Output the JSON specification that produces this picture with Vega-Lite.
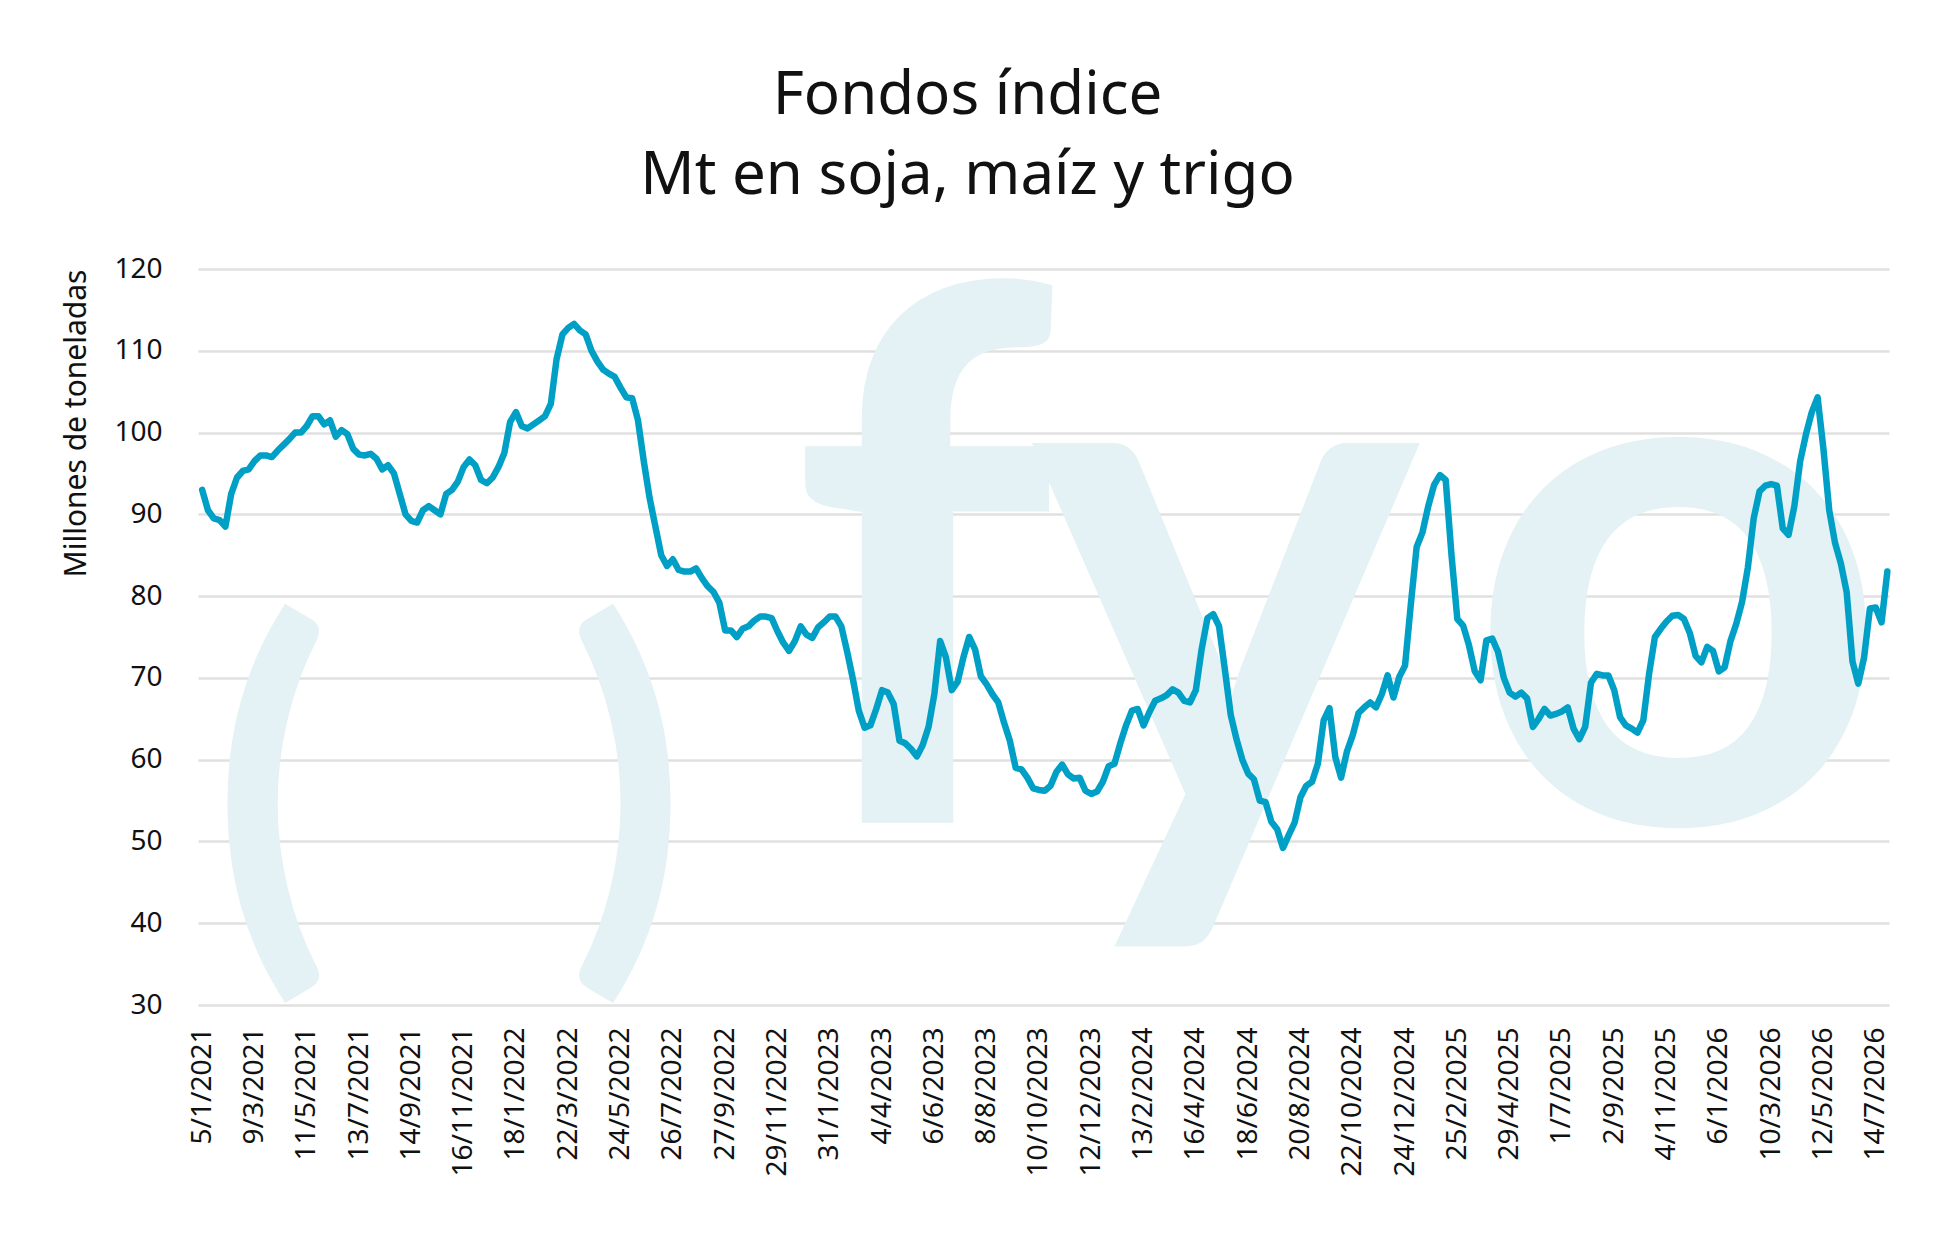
{
  "$schema": "https://vega.github.io/schema/vega-lite/v6.json",
  "width": 1691,
  "height": 736,
  "autosize": {"type": "none"},
  "padding": {"left": 198, "top": 269, "right": 49, "bottom": 251},
  "background": "white",
  "config": {"view": {"stroke": null}, "font": "Noto Sans"},
  "title": {
    "text": ["Fondos índice", "Mt en soja, maíz y trigo"],
    "fontSize": 60,
    "fontWeight": 400,
    "font": "Noto Sans",
    "color": "#111111",
    "lineHeight": 80,
    "anchor": "middle",
    "frame": "group",
    "dx": -76,
    "offset": 24
  },
  "datasets": {
    "marca": [
      {"f": "2021-03-30", "v": 52.5, "t": "("},
      {"f": "2022-05-31", "v": 52.5, "t": ")"}
    ],
    "marca2": [
      {"f": "2023-05-23", "v": 52.3, "t": "f"},
      {"f": "2024-05-21", "v": 52.3, "t": "y"},
      {"f": "2025-11-18", "v": 52.3, "t": "o"}
    ],
    "serie": [
      {"f":"2021-01-05","v":93},{"f":"2021-01-12","v":90.5},{"f":"2021-01-19","v":89.5},{"f":"2021-01-26","v":89.3},
      {"f":"2021-02-02","v":88.5},{"f":"2021-02-09","v":92.5},{"f":"2021-02-16","v":94.5},{"f":"2021-02-23","v":95.3},
      {"f":"2021-03-02","v":95.5},{"f":"2021-03-09","v":96.5},{"f":"2021-03-16","v":97.2},{"f":"2021-03-23","v":97.2},{"f":"2021-03-30","v":97},
      {"f":"2021-04-06","v":97.8},{"f":"2021-04-13","v":98.5},{"f":"2021-04-20","v":99.2},{"f":"2021-04-27","v":100},
      {"f":"2021-05-04","v":100},{"f":"2021-05-11","v":100.8},{"f":"2021-05-18","v":102},{"f":"2021-05-25","v":102},
      {"f":"2021-06-01","v":101},{"f":"2021-06-08","v":101.5},{"f":"2021-06-15","v":99.5},{"f":"2021-06-22","v":100.3},{"f":"2021-06-29","v":99.8},
      {"f":"2021-07-06","v":98},{"f":"2021-07-13","v":97.3},{"f":"2021-07-20","v":97.2},{"f":"2021-07-27","v":97.4},
      {"f":"2021-08-03","v":96.8},{"f":"2021-08-10","v":95.5},{"f":"2021-08-17","v":96},{"f":"2021-08-24","v":95},{"f":"2021-08-31","v":92.5},
      {"f":"2021-09-07","v":90},{"f":"2021-09-14","v":89.2},{"f":"2021-09-21","v":89},{"f":"2021-09-28","v":90.5},
      {"f":"2021-10-05","v":91},{"f":"2021-10-12","v":90.5},{"f":"2021-10-19","v":90},{"f":"2021-10-26","v":92.5},
      {"f":"2021-11-02","v":93},{"f":"2021-11-09","v":94},{"f":"2021-11-16","v":95.8},{"f":"2021-11-23","v":96.7},{"f":"2021-11-30","v":96},
      {"f":"2021-12-07","v":94.2},{"f":"2021-12-14","v":93.8},{"f":"2021-12-21","v":94.5},{"f":"2021-12-28","v":95.8},
      {"f":"2022-01-04","v":97.5},{"f":"2022-01-11","v":101.3},{"f":"2022-01-18","v":102.5},{"f":"2022-01-25","v":100.8},
      {"f":"2022-02-01","v":100.5},{"f":"2022-02-08","v":101},{"f":"2022-02-15","v":101.5},{"f":"2022-02-22","v":102},
      {"f":"2022-03-01","v":103.5},{"f":"2022-03-08","v":109},{"f":"2022-03-15","v":112},{"f":"2022-03-22","v":112.8},{"f":"2022-03-29","v":113.3},
      {"f":"2022-04-05","v":112.5},{"f":"2022-04-12","v":112},{"f":"2022-04-19","v":110},{"f":"2022-04-26","v":108.7},
      {"f":"2022-05-03","v":107.7},{"f":"2022-05-10","v":107.2},{"f":"2022-05-17","v":106.8},{"f":"2022-05-24","v":105.5},{"f":"2022-05-31","v":104.3},
      {"f":"2022-06-07","v":104.2},{"f":"2022-06-14","v":101.5},{"f":"2022-06-21","v":96.5},{"f":"2022-06-28","v":92},
      {"f":"2022-07-05","v":88.5},{"f":"2022-07-12","v":85},{"f":"2022-07-19","v":83.7},{"f":"2022-07-26","v":84.5},
      {"f":"2022-08-02","v":83.2},{"f":"2022-08-09","v":83},{"f":"2022-08-16","v":83},{"f":"2022-08-23","v":83.4},{"f":"2022-08-30","v":82.2},
      {"f":"2022-09-06","v":81.2},{"f":"2022-09-13","v":80.5},{"f":"2022-09-20","v":79.2},{"f":"2022-09-27","v":75.8},
      {"f":"2022-10-04","v":75.8},{"f":"2022-10-11","v":75},{"f":"2022-10-18","v":76},{"f":"2022-10-25","v":76.3},
      {"f":"2022-11-01","v":77},{"f":"2022-11-08","v":77.5},{"f":"2022-11-15","v":77.5},{"f":"2022-11-22","v":77.3},{"f":"2022-11-29","v":75.7},
      {"f":"2022-12-06","v":74.3},{"f":"2022-12-13","v":73.3},{"f":"2022-12-20","v":74.5},{"f":"2022-12-27","v":76.3},
      {"f":"2023-01-03","v":75.3},{"f":"2023-01-10","v":74.9},{"f":"2023-01-17","v":76.2},{"f":"2023-01-24","v":76.8},{"f":"2023-01-31","v":77.5},
      {"f":"2023-02-07","v":77.5},{"f":"2023-02-14","v":76.3},{"f":"2023-02-21","v":73.2},{"f":"2023-02-28","v":69.8},
      {"f":"2023-03-07","v":66},{"f":"2023-03-14","v":63.9},{"f":"2023-03-21","v":64.2},{"f":"2023-03-28","v":66.2},
      {"f":"2023-04-04","v":68.5},{"f":"2023-04-11","v":68.2},{"f":"2023-04-18","v":66.8},{"f":"2023-04-25","v":62.3},
      {"f":"2023-05-02","v":62},{"f":"2023-05-09","v":61.3},{"f":"2023-05-16","v":60.4},{"f":"2023-05-23","v":61.8},{"f":"2023-05-30","v":64},
      {"f":"2023-06-06","v":68},{"f":"2023-06-13","v":74.5},{"f":"2023-06-20","v":72.5},{"f":"2023-06-27","v":68.5},
      {"f":"2023-07-04","v":69.5},{"f":"2023-07-11","v":72.5},{"f":"2023-07-18","v":75},{"f":"2023-07-25","v":73.5},
      {"f":"2023-08-01","v":70.2},{"f":"2023-08-08","v":69.2},{"f":"2023-08-15","v":68},{"f":"2023-08-22","v":67},{"f":"2023-08-29","v":64.5},
      {"f":"2023-09-05","v":62.3},{"f":"2023-09-12","v":59},{"f":"2023-09-19","v":58.8},{"f":"2023-09-26","v":57.8},
      {"f":"2023-10-03","v":56.5},{"f":"2023-10-10","v":56.3},{"f":"2023-10-17","v":56.2},{"f":"2023-10-24","v":56.8},{"f":"2023-10-31","v":58.5},
      {"f":"2023-11-07","v":59.4},{"f":"2023-11-14","v":58.2},{"f":"2023-11-21","v":57.7},{"f":"2023-11-28","v":57.8},
      {"f":"2023-12-05","v":56.2},{"f":"2023-12-12","v":55.8},{"f":"2023-12-19","v":56.1},{"f":"2023-12-26","v":57.3},
      {"f":"2024-01-02","v":59.2},{"f":"2024-01-09","v":59.5},{"f":"2024-01-16","v":62},{"f":"2024-01-23","v":64.2},{"f":"2024-01-30","v":66},
      {"f":"2024-02-06","v":66.2},{"f":"2024-02-13","v":64.2},{"f":"2024-02-20","v":65.8},{"f":"2024-02-27","v":67.2},
      {"f":"2024-03-05","v":67.5},{"f":"2024-03-12","v":67.9},{"f":"2024-03-19","v":68.6},{"f":"2024-03-26","v":68.2},
      {"f":"2024-04-02","v":67.2},{"f":"2024-04-09","v":67},{"f":"2024-04-16","v":68.5},{"f":"2024-04-23","v":73.5},{"f":"2024-04-30","v":77.3},
      {"f":"2024-05-07","v":77.8},{"f":"2024-05-14","v":76.3},{"f":"2024-05-21","v":71},{"f":"2024-05-28","v":65.5},
      {"f":"2024-06-04","v":62.5},{"f":"2024-06-11","v":60},{"f":"2024-06-18","v":58.3},{"f":"2024-06-25","v":57.6},
      {"f":"2024-07-02","v":55},{"f":"2024-07-09","v":54.8},{"f":"2024-07-16","v":52.4},{"f":"2024-07-23","v":51.5},{"f":"2024-07-30","v":49.2},
      {"f":"2024-08-06","v":50.8},{"f":"2024-08-13","v":52.3},{"f":"2024-08-20","v":55.4},{"f":"2024-08-27","v":56.8},
      {"f":"2024-09-03","v":57.3},{"f":"2024-09-10","v":59.5},{"f":"2024-09-17","v":64.8},{"f":"2024-09-24","v":66.3},
      {"f":"2024-10-01","v":60.3},{"f":"2024-10-08","v":57.8},{"f":"2024-10-15","v":61},{"f":"2024-10-22","v":63},{"f":"2024-10-29","v":65.7},
      {"f":"2024-11-05","v":66.4},{"f":"2024-11-12","v":67},{"f":"2024-11-19","v":66.4},{"f":"2024-11-26","v":68},
      {"f":"2024-12-03","v":70.3},{"f":"2024-12-10","v":67.6},{"f":"2024-12-17","v":70.1},{"f":"2024-12-24","v":71.5},{"f":"2024-12-31","v":79},
      {"f":"2025-01-07","v":86},{"f":"2025-01-14","v":87.8},{"f":"2025-01-21","v":91},{"f":"2025-01-28","v":93.6},
      {"f":"2025-02-04","v":94.8},{"f":"2025-02-11","v":94.2},{"f":"2025-02-18","v":85},{"f":"2025-02-25","v":77.2},
      {"f":"2025-03-04","v":76.4},{"f":"2025-03-11","v":74},{"f":"2025-03-18","v":70.8},{"f":"2025-03-25","v":69.7},
      {"f":"2025-04-01","v":74.6},{"f":"2025-04-08","v":74.8},{"f":"2025-04-15","v":73.2},{"f":"2025-04-22","v":70},{"f":"2025-04-29","v":68.2},
      {"f":"2025-05-06","v":67.7},{"f":"2025-05-13","v":68.2},{"f":"2025-05-20","v":67.5},{"f":"2025-05-27","v":64},
      {"f":"2025-06-03","v":65},{"f":"2025-06-10","v":66.2},{"f":"2025-06-17","v":65.4},{"f":"2025-06-24","v":65.6},
      {"f":"2025-07-01","v":65.9},{"f":"2025-07-08","v":66.4},{"f":"2025-07-15","v":63.8},{"f":"2025-07-22","v":62.5},{"f":"2025-07-29","v":64},
      {"f":"2025-08-05","v":69.4},{"f":"2025-08-12","v":70.5},{"f":"2025-08-19","v":70.3},{"f":"2025-08-26","v":70.3},
      {"f":"2025-09-02","v":68.5},{"f":"2025-09-09","v":65.2},{"f":"2025-09-16","v":64.2},{"f":"2025-09-23","v":63.8},{"f":"2025-09-30","v":63.3},
      {"f":"2025-10-07","v":64.8},{"f":"2025-10-14","v":70.5},{"f":"2025-10-21","v":75},{"f":"2025-10-28","v":76},
      {"f":"2025-11-04","v":76.9},{"f":"2025-11-11","v":77.6},{"f":"2025-11-18","v":77.7},{"f":"2025-11-25","v":77.2},
      {"f":"2025-12-02","v":75.5},{"f":"2025-12-09","v":72.7},{"f":"2025-12-16","v":71.9},{"f":"2025-12-23","v":73.8},{"f":"2025-12-30","v":73.3},
      {"f":"2026-01-06","v":70.8},{"f":"2026-01-13","v":71.3},{"f":"2026-01-20","v":74.5},{"f":"2026-01-27","v":76.6},
      {"f":"2026-02-03","v":79.3},{"f":"2026-02-10","v":83.5},{"f":"2026-02-17","v":89.5},{"f":"2026-02-24","v":92.8},
      {"f":"2026-03-03","v":93.5},{"f":"2026-03-10","v":93.7},{"f":"2026-03-17","v":93.5},{"f":"2026-03-24","v":88.3},{"f":"2026-03-31","v":87.5},
      {"f":"2026-04-07","v":91},{"f":"2026-04-14","v":96.5},{"f":"2026-04-21","v":99.8},{"f":"2026-04-28","v":102.5},
      {"f":"2026-05-05","v":104.3},{"f":"2026-05-12","v":98},{"f":"2026-05-19","v":90.5},{"f":"2026-05-26","v":86.5},
      {"f":"2026-06-02","v":84},{"f":"2026-06-09","v":80.5},{"f":"2026-06-16","v":72},{"f":"2026-06-23","v":69.3},{"f":"2026-06-30","v":72.5},
      {"f":"2026-07-07","v":78.5},{"f":"2026-07-14","v":78.6},{"f":"2026-07-21","v":76.8},{"f":"2026-07-28","v":83}
    ]
  },
  "encoding": {
    "x": {
      "field": "f",
      "type": "temporal",
      "scale": {"type": "utc", "domain": [{"year": 2020, "month": 12, "date": 31, "utc": true}, {"year": 2026, "month": 7, "date": 30, "utc": true}]},
      "axis": {
        "title": null,
        "grid": false,
        "domain": false,
        "ticks": false,
        "labelExpr": "utcFormat(datum.value, '%-d/%-m/%Y')",
        "labelAngle": -90,
        "labelAlign": "right",
        "labelBaseline": "middle",
        "labelPadding": 22,
        "labelFontSize": 28,
        "labelColor": "#111111",
        "labelOverlap": false,
        "labelFlush": false,
        "values": [
          {"year":2021,"month":1,"date":5,"utc":true},{"year":2021,"month":3,"date":9,"utc":true},{"year":2021,"month":5,"date":11,"utc":true},
          {"year":2021,"month":7,"date":13,"utc":true},{"year":2021,"month":9,"date":14,"utc":true},{"year":2021,"month":11,"date":16,"utc":true},
          {"year":2022,"month":1,"date":18,"utc":true},{"year":2022,"month":3,"date":22,"utc":true},{"year":2022,"month":5,"date":24,"utc":true},
          {"year":2022,"month":7,"date":26,"utc":true},{"year":2022,"month":9,"date":27,"utc":true},{"year":2022,"month":11,"date":29,"utc":true},
          {"year":2023,"month":1,"date":31,"utc":true},{"year":2023,"month":4,"date":4,"utc":true},{"year":2023,"month":6,"date":6,"utc":true},
          {"year":2023,"month":8,"date":8,"utc":true},{"year":2023,"month":10,"date":10,"utc":true},{"year":2023,"month":12,"date":12,"utc":true},
          {"year":2024,"month":2,"date":13,"utc":true},{"year":2024,"month":4,"date":16,"utc":true},{"year":2024,"month":6,"date":18,"utc":true},
          {"year":2024,"month":8,"date":20,"utc":true},{"year":2024,"month":10,"date":22,"utc":true},{"year":2024,"month":12,"date":24,"utc":true},
          {"year":2025,"month":2,"date":25,"utc":true},{"year":2025,"month":4,"date":29,"utc":true},{"year":2025,"month":7,"date":1,"utc":true},
          {"year":2025,"month":9,"date":2,"utc":true},{"year":2025,"month":11,"date":4,"utc":true},{"year":2026,"month":1,"date":6,"utc":true},
          {"year":2026,"month":3,"date":10,"utc":true},{"year":2026,"month":5,"date":12,"utc":true},{"year":2026,"month":7,"date":14,"utc":true}
        ]
      }
    },
    "y": {
      "field": "v",
      "type": "quantitative",
      "scale": {"domain": [30, 120], "nice": false, "zero": false},
      "axis": {
        "title": "Millones de toneladas",
        "titleFontSize": 30,
        "titleFontWeight": 400,
        "titleColor": "#111111",
        "titleAnchor": "end",
        "titlePadding": 22,
        "values": [30, 40, 50, 60, 70, 80, 90, 100, 110, 120],
        "domain": false,
        "ticks": false,
        "labelPadding": 36,
        "labelFontSize": 28,
        "labelColor": "#111111",
        "gridColor": "#e0e0e0",
        "gridWidth": 2.5
      }
    }
  },
  "layer": [
    {
      "data": {"name": "marca"},
      "mark": {"type": "text", "font": "Lato", "fontWeight": 900, "fontSize": 420, "color": "#e4f1f5", "baseline": "middle", "align": "center", "dy": -12},
      "encoding": {"text": {"field": "t", "type": "nominal"}}
    },
    {
      "data": {"name": "marca2"},
      "mark": {"type": "text", "font": "Lato", "fontWeight": 700, "fontSize": 740, "color": "#e4f1f5", "baseline": "alphabetic", "align": "center"},
      "encoding": {"text": {"field": "t", "type": "nominal"}}
    },
    {
      "data": {"name": "serie"},
      "mark": {"type": "line", "color": "#00a0c6", "strokeWidth": 6.5, "strokeCap": "round", "strokeJoin": "round"}
    }
  ]
}
